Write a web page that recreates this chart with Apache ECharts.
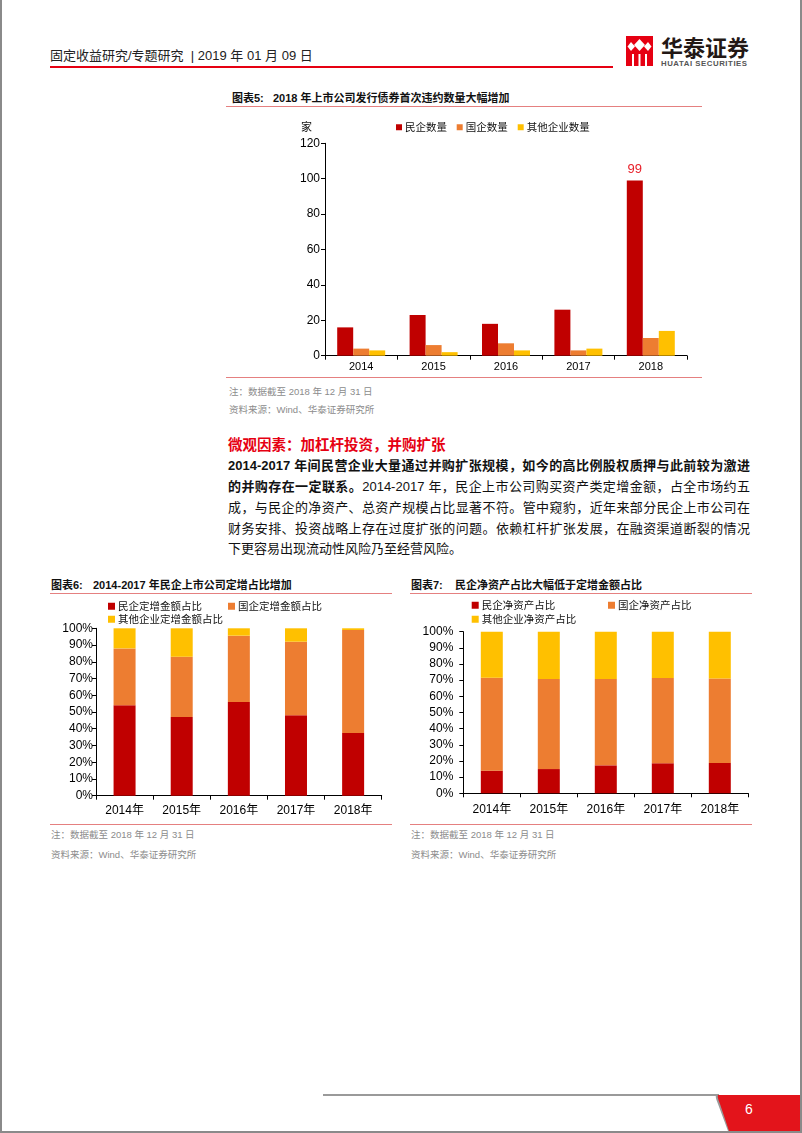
<!DOCTYPE html>
<html><head><meta charset="utf-8">
<script src="https://cdn.jsdelivr.net/npm/echarts@6/dist/echarts.min.js"></script>
<style>
html,body{margin:0;padding:0;}
body{width:802px;height:1133px;position:relative;background:#fff;overflow:hidden;font-family:"Liberation Sans",Arial,"Noto Sans CJK SC",sans-serif;color:#000;}
.a{position:absolute;white-space:nowrap;}
.frame{position:absolute;left:0;top:-2px;width:802px;height:1135px;box-sizing:border-box;border-left:2px solid #8a8a8a;border-right:2px solid #8a8a8a;border-bottom:2px solid #8a8a8a;}
.ttl{font-size:11px;font-weight:bold;line-height:13px;color:#111;}
.rl{position:absolute;height:1px;background:#E58080;}
.note{font-size:9.5px;line-height:12px;color:#8c8c8c;}
.pl{position:absolute;left:228px;width:522px;font-size:13px;line-height:21px;text-align:justify;text-align-last:justify;white-space:nowrap;color:#111;}
</style></head><body>
<div class="frame"></div>

<!-- header -->
<div class="a" style="left:50px;top:48px;font-size:13px;line-height:16px;color:#222;">固定收益研究/专题研究&nbsp;&nbsp;|&nbsp;2019 年 01 月 09 日</div>
<div class="a" style="left:50px;top:66px;width:563px;height:2px;background:#E60012;"></div>
<svg class="a" style="left:626px;top:36px;" width="27" height="30" viewBox="0 0 27 30">
<rect x="0" y="0" width="27" height="30" fill="#E60012"/>
<polygon points="13.5,3 19,9 13.5,15 8,9" fill="#fff"/>
<polygon points="5,6 9,10.5 5,15 1.5,10.5" fill="#fff"/>
<polygon points="22,6 25.5,10.5 22,15 18,10.5" fill="#fff"/>
<rect x="6" y="18" width="2" height="12" fill="#fff"/>
<rect x="12.5" y="18" width="2" height="12" fill="#fff"/>
<rect x="19" y="18" width="2" height="12" fill="#fff"/>
</svg>
<div class="a" style="left:661px;top:34px;font-size:22px;line-height:24px;font-weight:bold;color:#231815;font-family:'Noto Sans CJK SC',sans-serif;">华泰证券</div>
<div class="a" style="left:661px;top:59px;font-size:7.8px;line-height:10px;font-weight:bold;color:#555;letter-spacing:0.55px;">HUATAI SECURITIES</div>

<!-- chart 5 -->
<div class="a ttl" style="left:232px;top:92px;">图表5:</div>
<div class="a ttl" style="left:273px;top:92px;">2018 年上市公司发行债券首次违约数量大幅增加</div>
<div class="rl" style="left:226px;top:106px;width:476px;"></div>
<div id="c5" class="a" style="left:228px;top:110px;width:480px;height:268px;"></div>
<div class="rl" style="left:226px;top:377px;width:476px;"></div>
<div class="a note" style="left:229px;top:386px;">注：数据截至 2018 年 12 月 31 日</div>
<div class="a note" style="left:229px;top:404px;">资料来源：Wind、华泰证券研究所</div>

<!-- text -->
<div class="a" style="left:228px;top:436px;font-size:14.5px;line-height:18px;font-weight:bold;color:#E60012;">微观因素：加杠杆投资，并购扩张</div>
<div class="pl" style="top:455px;font-weight:bold;">2014-2017 年间民营企业大量通过并购扩张规模，如今的高比例股权质押与此前较为激进</div>
<div class="pl" style="top:476px;"><b>的并购存在一定联系。</b>2014-2017 年，民企上市公司购买资产类定增金额，占全市场约五</div>
<div class="pl" style="top:497px;">成，与民企的净资产、总资产规模占比显著不符。管中窥豹，近年来部分民企上市公司在</div>
<div class="pl" style="top:518px;">财务安排、投资战略上存在过度扩张的问题。依赖杠杆扩张发展，在融资渠道断裂的情况</div>
<div class="pl" style="top:538px;text-align:left;text-align-last:left;">下更容易出现流动性风险乃至经营风险。</div>

<!-- chart 6 -->
<div class="a ttl" style="left:51px;top:579px;">图表6:</div>
<div class="a ttl" style="left:93px;top:579px;">2014-2017 年民企上市公司定增占比增加</div>
<div class="rl" style="left:50px;top:593px;width:342px;"></div>
<div id="c6" class="a" style="left:50px;top:598px;width:345px;height:225px;"></div>
<div class="rl" style="left:50px;top:824px;width:342px;"></div>
<div class="a note" style="left:51px;top:829px;">注：数据截至 2018 年 12 月 31 日</div>
<div class="a note" style="left:51px;top:849px;">资料来源：Wind、华泰证券研究所</div>

<!-- chart 7 -->
<div class="a ttl" style="left:411px;top:579px;">图表7:</div>
<div class="a ttl" style="left:455px;top:579px;">民企净资产占比大幅低于定增金额占比</div>
<div class="rl" style="left:410px;top:593px;width:342px;"></div>
<div id="c7" class="a" style="left:410px;top:598px;width:345px;height:225px;"></div>
<div class="rl" style="left:410px;top:824px;width:342px;"></div>
<div class="a note" style="left:411px;top:829px;">注：数据截至 2018 年 12 月 31 日</div>
<div class="a note" style="left:411px;top:849px;">资料来源：Wind、华泰证券研究所</div>

<!-- footer -->
<div class="a" style="left:323px;top:1094px;width:396px;height:2px;background:#9a9a9a;"></div>
<svg class="a" style="left:710px;top:1092px;" width="92" height="41" viewBox="0 0 92 41">
<path d="M6,3 L90,3 L90,39 L18,39 L8,12 Q5,5 6,3 Z" fill="#9a9a9a"/>
<path d="M8,3 L90,3 L90,39 L19,39 L10,12 Q7,5 8,3 Z" fill="#E3141B"/>
</svg>
<div class="a" style="left:745px;top:1101px;font-size:14px;line-height:16px;color:#fff;">6</div>

<script>
// ---------- data ----------
const years5 = ['2014', '2015', '2016', '2017', '2018'];
const privateDefaultCount = [16, 23, 18, 26, 99];
const soeDefaultCount = [4, 6, 7, 3, 10];
const otherDefaultCount = [3, 2, 3, 4, 14];

const years6 = ['2014年', '2015年', '2016年', '2017年', '2018年'];
const privatePlacementShare = [54, 47, 56, 48, 37.5];
const soePlacementShare = [34, 36, 39.6, 44, 61.5];
const otherPlacementShare = [12, 17, 4.4, 8, 1];

const years7 = ['2014年', '2015年', '2016年', '2017年', '2018年'];
const privateNetAssetShare = [14, 15, 17.3, 18.6, 18.8];
const soeNetAssetShare = [57.5, 55.7, 53.4, 52.7, 52.3];
const otherNetAssetShare = [28.5, 29.3, 29.3, 28.7, 28.9];

const yTicks5 = { min: 0, max: 120, interval: 20 };
const yTicksPct = { min: 0, max: 100, interval: 10 };

// ---------- style ----------
const RED = '#C00000', ORANGE = '#ED7D31', YELLOW = '#FFC000';
const FONT = '"Liberation Sans", Arial, "Noto Sans CJK SC", sans-serif';
const CJK = '"Noto Sans CJK SC", sans-serif';

function legendItem(name, left, top, size, fs) {
  return { data: [name], left: left, top: top, orient: 'horizontal', itemWidth: size, itemHeight: size,
    icon: 'rect', itemGap: 0, padding: 0, selectedMode: false,
    textStyle: { color: '#111', fontSize: fs, fontFamily: CJK, padding: [0, 0, 0, -2] } };
}
function axisCommon(fs, margin) {
  return {
    axisLine: { show: true, lineStyle: { color: '#000', width: 1 } },
    axisTick: { show: true, length: 4, lineStyle: { color: '#000' } },
    axisLabel: { color: '#000', fontSize: fs, fontFamily: FONT, margin: margin },
    splitLine: { show: false }
  };
}

// ---------- chart 5 ----------
const c5 = echarts.init(document.getElementById('c5'), null, { renderer: 'canvas' });
c5.setOption({
  animation: false,
  grid: { left: 97, top: 33.3, right: 21, bottom: 22.3, containLabel: false, outerBoundsMode: 'none' },
  legend: [
    legendItem('民企数量', 168, 12, 6, 10.5),
    legendItem('国企数量', 228.7, 12, 6, 10.5),
    legendItem('其他企业数量', 289.7, 12, 6, 10.5)
  ],
  graphic: [{ type: 'text', left: 73, top: 11, style: { text: '家', fontSize: 11, fontFamily: CJK, fill: '#111' } }],
  xAxis: Object.assign({ type: 'category', data: years5 }, axisCommon(11, 6),
    { axisTick: { show: true, length: 4, alignWithLabel: false, lineStyle: { color: '#000' } } }),
  yAxis: Object.assign({ type: 'value' }, yTicks5, axisCommon(12, 5)),
  series: [
    { name: '民企数量', type: 'bar', data: privateDefaultCount, barWidth: 16, barGap: '0%', itemStyle: { color: RED },
      label: { show: true, position: 'top', distance: 5, color: '#E8202A', fontSize: 13, fontFamily: FONT,
        formatter: p => (p.value === Math.max.apply(null, privateDefaultCount) ? String(p.value) : '') } },
    { name: '国企数量', type: 'bar', data: soeDefaultCount, barWidth: 16, barGap: '0%', itemStyle: { color: ORANGE } },
    { name: '其他企业数量', type: 'bar', data: otherDefaultCount, barWidth: 16, barGap: '0%', itemStyle: { color: YELLOW } }
  ]
});

// ---------- stacked pct charts ----------
function pctChart(id, cats, names, s1, s2, s3, grid, legends, yMargin, xMargin) {
  const ch = echarts.init(document.getElementById(id), null, { renderer: 'canvas' });
  ch.setOption({
    animation: false,
    grid: Object.assign({ containLabel: false, outerBoundsMode: 'none' }, grid),
    legend: legends,
    xAxis: Object.assign({ type: 'category', data: cats }, axisCommon(12, xMargin)),
    yAxis: Object.assign({ type: 'value' }, yTicksPct, axisCommon(12, yMargin),
      { axisLabel: { color: '#000', fontSize: 12, fontFamily: FONT, margin: yMargin, formatter: '{value}%' } }),
    series: [
      { name: names[0], type: 'bar', stack: 't', data: s1, barWidth: 22, itemStyle: { color: RED } },
      { name: names[1], type: 'bar', stack: 't', data: s2, barWidth: 22, itemStyle: { color: ORANGE } },
      { name: names[2], type: 'bar', stack: 't', data: s3, barWidth: 22, itemStyle: { color: YELLOW } }
    ]
  });
}
const names6 = ['民企定增金额占比', '国企定增金额占比', '其他企业定增金额占比'];
pctChart('c6', years6, names6, privatePlacementShare, soePlacementShare, otherPlacementShare,
  { left: 46, top: 30.3, right: 13.3, bottom: 27.3 },
  [legendItem(names6[0], 58, 3, 7, 10.5), legendItem(names6[1], 178, 3, 7, 10.5), legendItem(names6[2], 58, 16, 7, 10.5)],
  3, 9);
const names7 = ['民企净资产占比', '国企净资产占比', '其他企业净资产占比'];
pctChart('c7', years7, names7, privateNetAssetShare, soeNetAssetShare, otherNetAssetShare,
  { left: 53.3, top: 33.7, right: 6.7, bottom: 29.7 },
  [legendItem(names7[0], 61.7, 2, 7, 10.5), legendItem(names7[1], 198, 2, 7, 10.5), legendItem(names7[2], 61.7, 16, 7, 10.5)],
  10, 10);
</script>
</body></html>
